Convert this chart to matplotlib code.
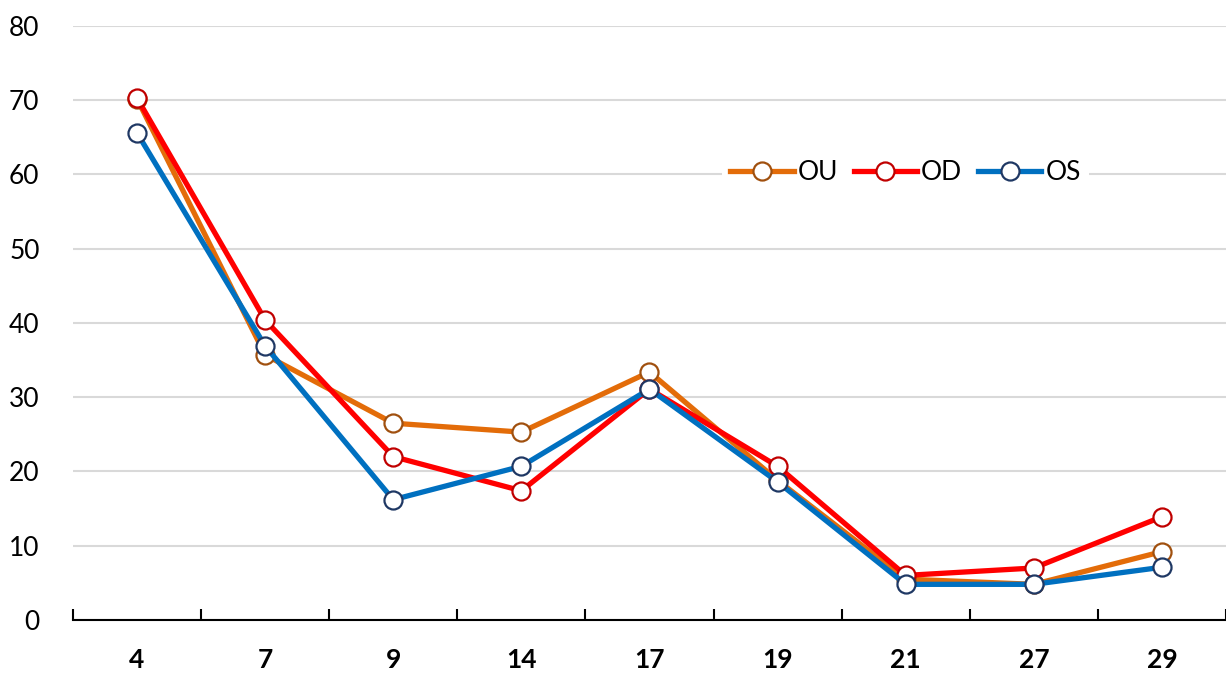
import matplotlib
matplotlib.use('Agg')
import matplotlib.pyplot as plt
from matplotlib.ticker import FixedLocator

plt.rcParams['font.family'] = ['Lato', 'DejaVu Sans']

# data
categories = ['4', '7', '9', '14', '17', '19', '21', '27', '29']
ou = [70.2, 35.7, 26.5, 25.3, 33.4, 18.8, 5.5, 4.8, 9.2]
od = [70.3, 40.4, 22.0, 17.4, 31.1, 20.7, 6.0, 7.0, 13.9]
os_ = [65.6, 36.9, 16.2, 20.7, 31.1, 18.6, 4.8, 4.8, 7.1]

series = [
    ('OU', ou, '#E36C09', '#A0500F'),
    ('OD', od, '#FF0000', '#C00000'),
    ('OS', os_, '#0070C0', '#1F3864'),
]

fig = plt.figure(figsize=(12.26, 6.73), dpi=100)
ax = fig.add_axes([0.0595, 0.0788, 0.9405, 0.8826])

x = range(len(categories))
for name, vals, col, edge in series:
    ax.plot(x, vals, color=col, lw=3.8, marker='o', ms=13,
            markerfacecolor='white', markeredgecolor=edge, markeredgewidth=1.6,
            label=name, solid_joinstyle='round', zorder=3)

ax.set_xlim(-0.5, len(categories) - 0.5)
ax.set_ylim(0, 80)
ax.set_yticks(range(0, 81, 10))
ax.yaxis.grid(True, color='#D9D9D9', lw=1.5)
ax.set_axisbelow(True)

ax.set_xticks(list(x))
ax.set_xticklabels(categories, fontsize=19, fontweight='bold')
ax.xaxis.set_minor_locator(FixedLocator([i - 0.5 for i in range(len(categories) + 1)]))
ax.tick_params(axis='x', which='major', length=0, pad=20)
ax.tick_params(axis='x', which='minor', direction='in', length=8, width=1.5, color='black')
ax.tick_params(axis='y', length=0, pad=24, labelsize=19)

for s in ['top', 'right', 'left']:
    ax.spines[s].set_visible(False)
ax.spines['bottom'].set_linewidth(1.5)

leg = ax.legend(loc='center', bbox_to_anchor=(0.722, 0.7525), ncol=3, fontsize=19,
                frameon=True, facecolor='white', edgecolor='none', framealpha=1,
                handlelength=2.4, handletextpad=0.15, columnspacing=0.6,
                borderpad=0.3)

plt.savefig('out.png', dpi=100)
